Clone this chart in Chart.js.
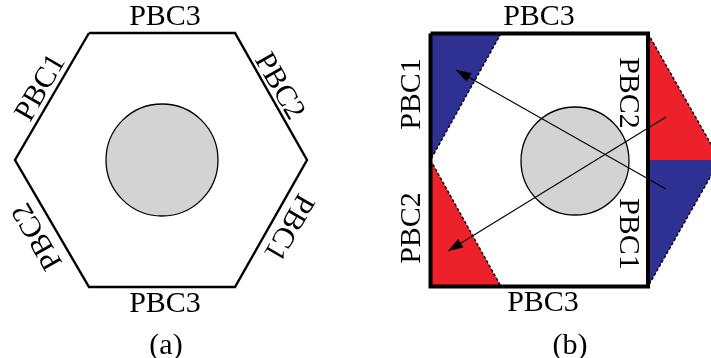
<!DOCTYPE html>
<html>
<head>
<meta charset="utf-8">
<script src="https://cdn.jsdelivr.net/npm/chart.js@4.4.1/dist/chart.umd.min.js"></script>
<style>
  html, body { margin: 0; padding: 0; background: #ffffff; }
  #wrap { position: relative; width: 711px; height: 358px; }
</style>
</head>
<body>
<div id="wrap"><canvas id="chart"></canvas></div>
<script>
// =====================================
// DATA (drawing units = picture pixels, y grows downward)
// =====================================

// (a) hexagonal cell
const hexX = [89, 235, 307, 235, 89, 15, 89];
const hexY = [33, 33, 160, 287, 287, 160, 33];
const circleA = [{ x: 162, y: 160 }];

// (b) square cell
const squareX = [430.5, 648, 648, 430.5, 430.5];
const squareY = [33.5, 33.5, 286.5, 286.5, 33.5];
const circleB = [{ x: 575, y: 161 }];

// coloured corner triangles
const blueLeftX = [430.5, 501, 430.5];
const blueLeftY = [33.5, 33.5, 160];
const redLeftX = [430.5, 430.5, 501];
const redLeftY = [160, 286.5, 286.5];
const redRightX = [648, 720, 648];
const redRightY = [33.5, 160, 160];
const blueRightX = [648, 720, 648];
const blueRightY = [160, 160, 286.5];

// dashed edges of the triangles
const dashX = [[501, 430.5], [430.5, 501], [648, 720], [720, 648]];
const dashY = [[33.5, 160], [160, 286.5], [33.5, 160], [160, 286.5]];

// arrows: tail -> tip
const arrowX = [[666, 456], [666, 448]];
const arrowY = [[189, 70], [117, 251]];

// text labels
const labelText  = ["PBC3", "PBC3", "PBC1", "PBC2", "PBC2", "PBC1", "(a)",
                    "PBC3", "PBC3", "PBC1", "PBC2", "PBC2", "PBC1", "(b)"];
const labelX     = [165, 165, 41, 279, 38, 288, 166,
                    539, 543, 412, 412, 628, 628, 570];
const labelY     = [17, 304, 88, 86.5, 236, 227, 346,
                    17, 303, 94, 228, 93, 234, 346];
const labelAngle = [0, 0, -60, 60, -120, 120, 0,
                    0, 0, -90, -90, 90, 90, 0];

// =====================================
// HELPERS
// =====================================
const RED = "#ed2129";
const BLUE = "#2e3192";

function pts(xs, ys) {
    return xs.map((x, i) => ({ x: x, y: ys[i] }));
}

function outline(xs, ys, width, order) {
    return {
        data: pts(xs, ys),
        showLine: true,
        borderColor: "#000000",
        borderWidth: width,
        borderJoinStyle: "miter",
        pointRadius: 0,
        fill: false,
        order: order
    };
}

function patch(xs, ys, color) {
    return {
        data: pts(xs, ys),
        showLine: true,
        borderWidth: 0,
        borderColor: color,
        backgroundColor: color,
        pointRadius: 0,
        fill: "shape",
        order: 10
    };
}

function disk(points, radius) {
    return {
        data: points,
        pointRadius: radius,
        pointStyle: "circle",
        pointBackgroundColor: "#d3d3d3",
        pointBorderColor: "#000000",
        pointBorderWidth: 1.3,
        order: 4
    };
}

// =====================================
// DATASETS
// =====================================
let datasets = [
    patch(blueLeftX, blueLeftY, BLUE),
    patch(redLeftX, redLeftY, RED),
    patch(redRightX, redRightY, RED),
    patch(blueRightX, blueRightY, BLUE),
    outline(hexX, hexY, 2.4, 5),
    outline(squareX, squareY, 4, 5),
    disk(circleA, 56),
    disk(circleB, 54)
];

dashX.forEach((xs, i) => {
    datasets.push({
        data: pts(xs, dashY[i]),
        showLine: true,
        borderColor: "#000000",
        borderWidth: 1.4,
        borderDash: [3, 2],
        pointRadius: 0,
        fill: false,
        order: 8
    });
});

arrowX.forEach((xs, i) => {
    datasets.push({
        arrow: true,
        data: pts(xs, arrowY[i]),
        showLine: true,
        borderColor: "#000000",
        borderWidth: 1.1,
        pointRadius: 0,
        fill: false,
        order: 1
    });
});

// =====================================
// PLUGIN: arrowheads + labels
// =====================================
const decorations = {
    id: "decorations",
    afterDatasetsDraw(chart) {
        const ctx = chart.ctx;
        const sx = chart.scales.x;
        const sy = chart.scales.y;

        // arrowheads
        chart.data.datasets.forEach(ds => {
            if (!ds.arrow) return;
            const a = ds.data[0], b = ds.data[1];
            const x0 = sx.getPixelForValue(a.x), y0 = sy.getPixelForValue(a.y);
            const x1 = sx.getPixelForValue(b.x), y1 = sy.getPixelForValue(b.y);
            const ang = Math.atan2(y1 - y0, x1 - x0);
            const len = 15, half = 5;
            ctx.save();
            ctx.translate(x1, y1);
            ctx.rotate(ang);
            ctx.beginPath();
            ctx.moveTo(0, 0);
            ctx.lineTo(-len, -half);
            ctx.lineTo(-len, half);
            ctx.closePath();
            ctx.fillStyle = "#000000";
            ctx.fill();
            ctx.restore();
        });

        // labels
        ctx.save();
        ctx.fillStyle = "#000000";
        ctx.font = "30px 'Liberation Serif', 'Times New Roman', serif";
        ctx.textAlign = "center";
        ctx.textBaseline = "middle";
        labelText.forEach((t, i) => {
            ctx.save();
            ctx.translate(sx.getPixelForValue(labelX[i]), sy.getPixelForValue(labelY[i]));
            ctx.rotate(labelAngle[i] * Math.PI / 180);
            ctx.fillText(t, 0, 0);
            ctx.restore();
        });
        ctx.restore();
    }
};

// =====================================
// CHART
// =====================================
const chart = new Chart(document.getElementById("chart"), {
    type: "scatter",
    data: { datasets: datasets },
    options: {
        responsive: true,
        maintainAspectRatio: false,
        animation: false,
        events: [],
        layout: { padding: 0, autoPadding: false },
        plugins: {
            legend: { display: false },
            tooltip: { enabled: false }
        },
        scales: {
            x: { type: "linear", min: 0, max: 711, display: false },
            y: { type: "linear", min: 0, max: 358, reverse: true, display: false }
        }
    },
    plugins: [decorations]
});
</script>
</body>
</html>
